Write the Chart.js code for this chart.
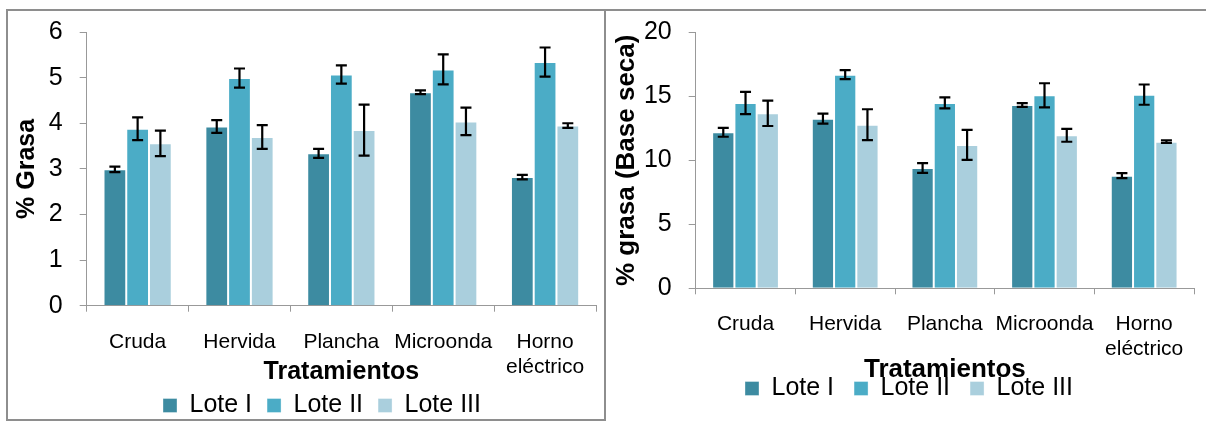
<!DOCTYPE html>
<html>
<head>
<meta charset="utf-8">
<script src="https://cdn.jsdelivr.net/npm/chart.js@4.4.0/dist/chart.umd.min.js"></script>
<style>
html, body { margin:0; padding:0; background:#fff; overflow:hidden; width:1206px; height:421px; }
#panelA { position:absolute; left:6px; top:9px; width:596px; height:408px; border:2px solid #8e8e8e; }
#panelB { position:absolute; left:606px; top:9px; width:600px; height:420px; border-top:2px solid #8e8e8e; }
canvas { position:absolute; }
</style>
</head>
<body>
<div id="panelA"></div>
<div id="panelB"></div>
<canvas id="grasa" width="597" height="417" style="left:8px;top:11px"></canvas>
<canvas id="seca" width="599" height="400" style="left:607px;top:11px"></canvas>
<script>
// categorias y series
var categories = ['Cruda', 'Hervida', 'Plancha', 'Microonda', ['Horno', 'eléctrico']]
var seriesNames = ['Lote I', 'Lote II', 'Lote III']
var colors = ['#3d8ba1', '#4bacc6', '#aacfdd']

// % grasa (base humeda)
var grasaI = [2.99, 3.93, 3.34, 4.68, 2.82]
var grasaII = [3.88, 4.99, 5.07, 5.18, 5.34]
var grasaIII = [3.56, 3.70, 3.85, 4.04, 3.95]
var errGrasaI = [0.06, 0.14, 0.10, 0.04, 0.05]
var errGrasaII = [0.25, 0.21, 0.20, 0.33, 0.32]
var errGrasaIII = [0.28, 0.26, 0.56, 0.30, 0.05]
var grasaTicks = [0, 6, 1]

// % grasa (base seca)
var secaI = [12.19, 13.25, 9.40, 14.32, 8.80]
var secaII = [14.48, 16.69, 14.48, 15.08, 15.13]
var secaIII = [13.67, 12.78, 11.20, 11.95, 11.45]
var errSecaI = [0.35, 0.39, 0.38, 0.15, 0.20]
var errSecaII = [0.87, 0.35, 0.43, 0.94, 0.79]
var errSecaIII = [0.99, 1.21, 1.17, 0.50, 0.10]
var secaTicks = [0, 20, 5]

Chart.defaults.font.family = "'Liberation Sans', Arial, sans-serif"
Chart.defaults.color = '#000'

// barras de error (no vienen en Chart.js)
var errorBars = {
    id: 'errorBars',
    afterDatasetsDraw: function (chart) {
        var ctx = chart.ctx
        var y = chart.scales.y
        ctx.save()
        ctx.strokeStyle = '#000'
        ctx.lineWidth = 2.2
        chart.data.datasets.forEach(function (ds, i) {
            chart.getDatasetMeta(i).data.forEach(function (bar, j) {
                var top = y.getPixelForValue(ds.data[j] + ds.errors[j])
                var bot = y.getPixelForValue(ds.data[j] - ds.errors[j])
                ctx.beginPath()
                ctx.moveTo(bar.x, top); ctx.lineTo(bar.x, bot)
                ctx.moveTo(bar.x - 5.5, top); ctx.lineTo(bar.x + 5.5, top)
                ctx.moveTo(bar.x - 5.5, bot); ctx.lineTo(bar.x + 5.5, bot)
                ctx.stroke()
            })
        })
        ctx.restore()
    }
}

function newBarChart(id, values, errors, ticks, yTitle, lay) {
    var datasets = values.map(function (v, i) {
        return {
            label: seriesNames[i],
            data: v,
            errors: errors[i],
            backgroundColor: colors[i],
            borderColor: 'rgba(255,255,255,0.35)',
            borderWidth: 1,
            categoryPercentage: 0.67,
            barPercentage: 1.0
        }
    })
    new Chart(document.getElementById(id).getContext('2d'), {
        type: 'bar',
        data: { labels: categories, datasets: datasets },
        plugins: [errorBars],
        options: {
            responsive: false,
            animation: false,
            layout: { padding: lay.padding },
            plugins: {
                tooltip: { enabled: false },
                legend: {
                    position: 'bottom',
                    // titulo vacio: solo sirve para mover la leyenda en vertical
                    title: { display: true, text: '', font: { size: 10 }, padding: { top: lay.legendShift - 12, bottom: 0 } },
                    labels: { boxWidth: 14, boxHeight: 14, padding: lay.legendPad, font: { size: 25 } }
                }
            },
            scales: {
                x: {
                    grid: { offset: true, drawOnChartArea: false, tickLength: 6, color: '#999' },
                    border: { color: '#999' },
                    ticks: { font: { size: 21 }, padding: lay.xTickPad, maxRotation: 0, autoSkip: false },
                    title: { display: true, text: 'Tratamientos', font: { size: lay.xTitleSize, weight: 'bold' }, padding: { top: 0, bottom: lay.xTitlePad } },
                    afterFit: function (s) { s.height = lay.xHeight }
                },
                y: {
                    min: ticks[0], max: ticks[1],
                    grid: { drawOnChartArea: false, tickLength: 7, color: '#999' },
                    border: { color: '#999' },
                    ticks: { stepSize: ticks[2], font: { size: 25 }, padding: 17 },
                    title: { display: true, text: yTitle, font: { size: lay.yTitleSize, weight: 'bold' }, padding: { top: lay.yTitlePad, bottom: 0 } },
                    afterFit: function (s) {
                        s.width = lay.yWidth
                        s.paddingTop = 0
                        s.paddingBottom = 0
                    }
                }
            }
        }
    })
}

newBarChart('grasa', [grasaI, grasaII, grasaIII], [errGrasaI, errGrasaII, errGrasaIII], grasaTicks, '% Grasa', {
    padding: { left: 40, top: 21, right: 9, bottom: 0 },
    legendPad: 15, legendShift: -1, xTickPad: 17.7, xTitleSize: 25, xTitlePad: -8, xHeight: 73.3,
    yTitleSize: 25, yTitlePad: -36, yWidth: 38.7
})
newBarChart('seca', [secaI, secaII, secaIII], [errSecaI, errSecaII, errSecaIII], secaTicks, '% grasa (Base seca)', {
    padding: { left: 17, top: 21.3, right: 12, bottom: 0 },
    legendPad: 20, legendShift: -7, xTickPad: 17.1, xTitleSize: 26, xTitlePad: -22.6, xHeight: 74.7,
    yTitleSize: 26, yTitlePad: -12.6, yWidth: 71.7
})
</script>
</body>
</html>
